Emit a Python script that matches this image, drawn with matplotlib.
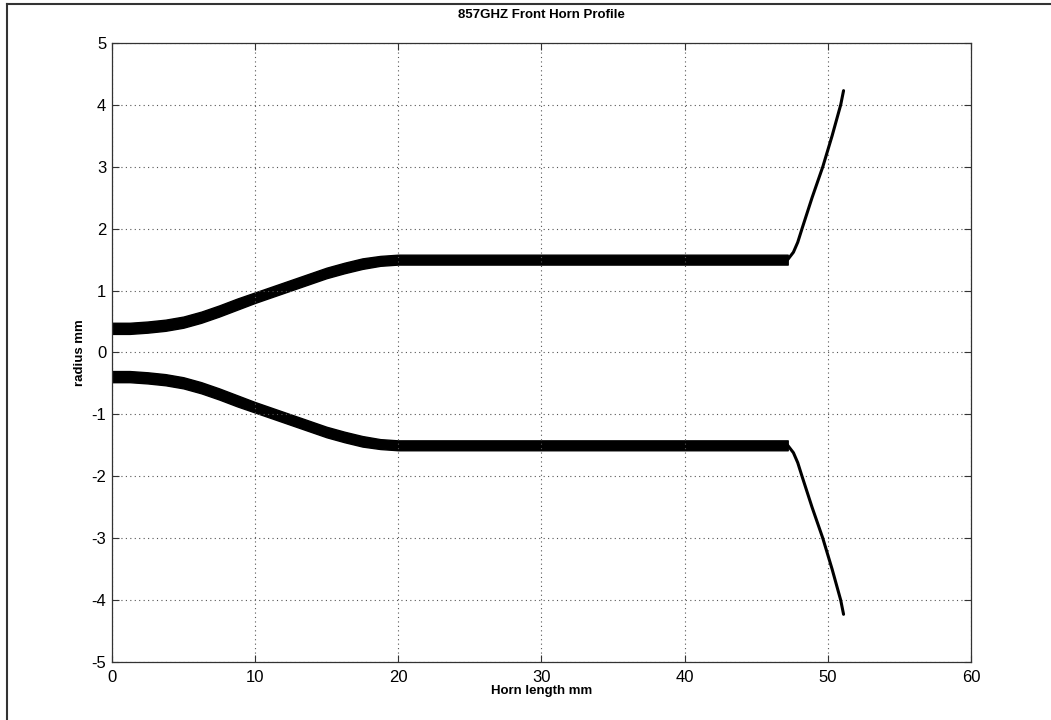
import numpy as np
import matplotlib
matplotlib.use("Agg")
import matplotlib.pyplot as plt
from matplotlib.lines import Line2D

plt.rcParams['font.family'] = ['Liberation Sans', 'DejaVu Sans']
plt.rcParams['axes.unicode_minus'] = False

# Corrugated section of the horn (upper wall): inner (ridge) and outer (groove) radius, mm
x_corr = [0.0, 1.25, 2.5, 3.75, 5.0, 6.25, 7.5, 8.75, 10.0, 11.25, 12.5, 13.75,
          15.0, 16.25, 17.5, 18.75, 20.0, 21.0, 30.0, 40.0, 47.2]
r_inner = [0.30, 0.30, 0.32, 0.35, 0.40, 0.48, 0.58, 0.69, 0.80, 0.90, 1.00, 1.10,
           1.20, 1.28, 1.35, 1.40, 1.42, 1.42, 1.42, 1.42, 1.42]
r_outer = [0.48, 0.48, 0.50, 0.53, 0.58, 0.66, 0.76, 0.87, 0.97, 1.07, 1.17, 1.27,
           1.37, 1.45, 1.52, 1.56, 1.58, 1.58, 1.58, 1.58, 1.58]

# Smooth-walled flare section (upper wall), mm
x_flare = [47.2, 47.6, 47.9, 48.2, 48.9, 49.65, 50.3, 50.9, 51.1]
r_flare = [1.50, 1.62, 1.78, 2.00, 2.50, 3.00, 3.50, 4.00, 4.23]

title = "857GHZ Front Horn Profile"
xlabel = "Horn length mm"
ylabel = "radius mm"
xticks = [0, 10, 20, 30, 40, 50, 60]
yticks = [-5, -4, -3, -2, -1, 0, 1, 2, 3, 4, 5]

fig = plt.figure(figsize=(10.51, 7.2), dpi=100)
ax = fig.add_axes([0.1063, 0.0806, 0.8176, 0.8597])

xc = np.array(x_corr)
ri = np.array(r_inner)
ro = np.array(r_outer)
xf = np.array(x_flare)
rf = np.array(r_flare)

for s in (1, -1):
    ax.fill_between(xc, s * ri, s * ro, color='black', linewidth=1.0, edgecolor='black')
    ax.plot(xf, s * rf, color='black', linewidth=2.2, solid_capstyle='round',
            solid_joinstyle='round')

ax.set_xlim(0, 60)
ax.set_ylim(-5, 5)
ax.set_xticks(xticks)
ax.set_yticks(yticks)
ax.tick_params(direction='in', length=5, top=True, right=True, labelsize=12,
               color='#333333', pad=4)
ax.tick_params(axis='x', pad=6)
ax.grid(True, linestyle=(0, (1, 3)), color='#555555', linewidth=0.8)
for sp in ax.spines.values():
    sp.set_color('#333333')
    sp.set_linewidth(0.9)

ax.set_title(title, fontsize=9.5, fontweight='bold', pad=18)
ax.set_xlabel(xlabel, fontsize=9.5, fontweight='bold', labelpad=0)
ax.set_ylabel(ylabel, fontsize=9.5, fontweight='bold', labelpad=4)

# outer frame (top and left edges of the screenshot window)
fig.add_artist(Line2D([0.0065, 1.0], [0.994, 0.994], color='#333333', linewidth=1.5,
                      transform=fig.transFigure))
fig.add_artist(Line2D([0.0065, 0.0065], [0.0, 0.994], color='#333333', linewidth=1.5,
                      transform=fig.transFigure))

fig.savefig("out.png", dpi=100)
